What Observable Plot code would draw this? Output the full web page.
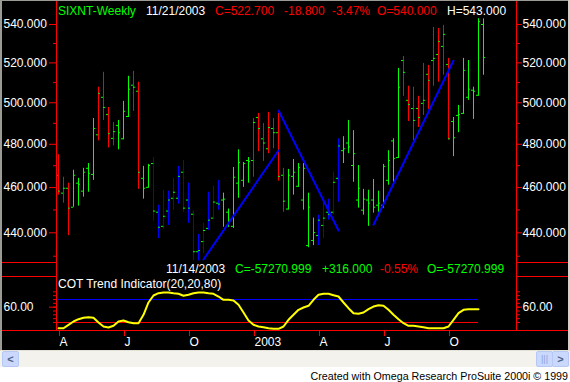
<!DOCTYPE html>
<html><head><meta charset="utf-8">
<script src="https://cdn.jsdelivr.net/npm/d3@7"></script>
<script src="https://cdn.jsdelivr.net/npm/@observablehq/plot@0.6"></script>
<style>
body{margin:0;background:#fff;}
#wrap{position:relative;width:570px;height:382px;overflow:hidden;background:#fff;font-family:"Liberation Sans",Arial,sans-serif;font-size:12px;}
.abs{position:absolute;}
.t{position:absolute;white-space:pre;font-size:12px;line-height:14px;}
.hl{position:absolute;height:1px;background:#ff0000;}
.vl{position:absolute;width:1px;background:#ff0000;}
</style></head><body><div id="wrap"></div>
<script>
// ---- price bars (weekly, 5 Apr 2002 .. 21 Nov 2003) ----
const highs = [475.1,464.7,462.0,467.9,464.2,468.8,471.0,492.3,507.7,515.2,497.7,490.4,491.4,500.7,513.2,515.7,510.2,469.7,470.6,473.8,
452.1,458.8,458.4,464.2,469.7,472.4,462.0,449.5,439.3,444.1,457.9,460.6,463.3,457.5,450.4,469.2,477.4,471.5,473.8,492.3,
494.8,489.9,495.3,492.3,494.8,468.8,468.3,472.9,471.0,471.0,457.5,446.4,447.7,453.9,454.8,467.0,482.6,483.6,491.4,486.5,
470.1,459.2,458.8,463.7,458.4,470.6,477.0,482.6,517.2,523.3,508.2,507.7,503.2,519.7,518.7,538.4,537.9,539.5,522.3,492.8,
498.7,522.3,521.2,507.7,543.1,543.0];
const lows = [456.6,453.0,438.8,451.2,451.7,455.7,457.9,463.3,481.6,491.4,478.3,479.2,477.4,482.1,492.8,495.8,459.2,454.8,459.7,445.0,
437.5,441.5,443.2,449.9,452.6,449.0,444.1,428.0,428.0,431.1,441.0,446.0,449.9,442.4,442.4,441.9,455.2,460.1,462.0,464.7,
476.5,472.0,475.6,477.9,462.9,449.0,449.9,456.6,460.1,449.9,433.6,434.5,434.5,437.5,445.5,447.7,453.5,471.0,475.6,462.4,
450.8,447.7,442.8,448.6,449.0,450.8,461.1,462.4,473.3,503.2,490.9,481.6,488.0,493.8,496.7,508.2,510.2,513.7,482.1,474.2,
485.5,494.3,501.2,491.9,503.2,513.7];
const opens = [465.6,457.5,459.7,451.2,462.0,458.4,468.8,466.0,484.5,502.7,494.3,482.8,488.9,482.6,493.3,508.7,505.7,464.2,460.1,471.0,
449.0,442.8,449.5,455.2,455.2,467.0,454.4,448.1,431.9,436.2,441.9,446.4,453.0,454.4,449.0,442.8,462.0,463.3,472.4,472.4,
492.8,482.6,477.9,487.5,485.5,465.6,450.4,465.1,460.6,454.4,434.5,436.7,438.8,443.2,449.0,449.0,464.2,477.0,480.6,470.1,
454.4,449.9,454.4,454.4,452.1,452.1,463.3,481.6,473.8,521.2,501.2,497.2,497.2,499.7,514.2,521.2,524.3,528.5,519.2,490.9,
493.8,494.8,502.7,506.2,503.7,540.0];
const closes = [458.4,459.7,450.8,465.6,461.5,467.0,466.5,487.5,504.7,497.7,485.0,486.0,485.5,495.8,506.7,507.7,467.0,459.7,470.1,449.5,
442.4,447.2,454.4,457.9,465.1,450.8,450.8,431.9,432.4,441.0,445.5,453.5,452.6,454.8,445.5,464.7,471.5,471.0,472.0,490.4,
487.5,480.6,488.0,485.5,465.1,453.9,465.6,467.0,469.2,468.8,451.2,440.1,445.5,446.4,448.1,462.4,479.2,477.9,478.8,475.6,
459.7,454.8,453.0,451.2,453.0,469.7,472.4,473.3,507.7,515.2,499.2,491.4,492.8,501.2,511.2,522.3,531.1,534.8,482.6,483.1,
494.3,516.2,506.7,505.7,541.5,522.7];
// paint-bar colour of each weekly bar (G green, R red, B blue)
const barColors = [
 "R","R","R","G","G","G","G","G","R","R",
 "R","R","G","G","G","R","R","G","G","B",
 "B","B","B","B","B","B","B","B","B","B",
 "B","B","B","G","G","G","G","G","G","R",
 "R","R","R","R","R","R","G","G","G","G",
 "G","G","B","B","B","B","B","G","G","G",
 "G","G","G","G","G","G","G","G","G","R",
 "R","R","R","R","R","R","R","R","R","G",
 "G","G","G","G","G","G"];
// ---- drawn trend lines ----
const trendId = [1,1,2,2,3,3];
const trendBar = [29,44,44,56,63,79];
const trendPrice = [428.6,477.1,496.2,441.0,443.5,521.2];
// ---- COT trend indicator (20,20,80) ----
const cot = [5.1,5.1,14.0,22.6,28.6,32.3,33.8,32.3,20.0,9.6,7.0,11.4,22.6,25.2,20.8,18.2,18.2,40.1,72.2,90.4,
96.4,98.3,98.3,96.4,94.9,89.7,92.3,96.4,98.3,98.3,96.4,94.9,87.8,79.2,79.2,77.4,66.2,46.1,25.2,14.0,
9.6,7.7,5.1,3.6,3.6,9.6,27.0,40.1,53.1,59.1,63.6,79.2,92.3,94.9,94.9,91.2,87.8,72.2,57.3,44.3,
42.7,46.1,54.7,61.7,65.1,63.6,53.1,40.1,28.6,18.2,11.4,11.4,9.6,7.7,5.1,5.1,5.1,5.1,9.6,27.0,
44.3,53.1,54.7,54.7,54.7];
const upperBand = 80, lowerBand = 20;
// ---- axes ----
const priceMajor = [440,460,480,500,520,540];
const priceMinor = [430,450,470,490,510,530];
const cotTicks = [20,30,40,50,60,70,80,90,100];
const cotMajor = [60];
const monthTickBars = [0,13,26,39,52,65,78];
const monthLabels = ["A","J","O","2003","A","J","O"];

const palette = {G:"#00ff00", R:"#ff0000", B:"#0000ff"};
const RED = "#ff0000", WHITE = "#ffffff";
const FONT = "'Liberation Sans', Arial, sans-serif";
const xDomain = [-0.4, 91.6];

const bars = highs.map((h,i)=>({i, h, l: lows[i], o: opens[i], c: closes[i], col: palette[barColors[i]]}));
const trend = trendId.map((id,k)=>({id, i: trendBar[k], p: trendPrice[k]}));
const cotData = cot.map((v,i)=>({i, v}));

const wrap = document.getElementById("wrap");
function add(html){ wrap.insertAdjacentHTML("beforeend", html); }

// black chart area
add('<div class="abs" style="left:0;top:0;width:570px;height:350px;background:#000"></div>');

const price = Plot.plot({
  width: 570, height: 262,
  marginLeft: 56, marginRight: 54, marginTop: 2, marginBottom: 0,
  style: {background: "#000", color: WHITE, fontFamily: FONT, fontSize: "12px", overflow: "visible"},
  x: {domain: xDomain, axis: null},
  y: {type: "log", domain: [427.34, 551.8]},
  color: {type: "identity"},
  marks: [
    Plot.axisY({anchor: "left", ticks: priceMinor, tickSize: 3, stroke: RED, fill: "none", label: null}),
    Plot.axisY({anchor: "left", ticks: priceMajor, tickSize: 7, stroke: RED, fill: "none", label: null}),
    Plot.axisY({anchor: "right", ticks: priceMinor, tickSize: 3, stroke: RED, fill: "none", label: null}),
    Plot.axisY({anchor: "right", ticks: priceMajor, tickSize: 5, stroke: RED, fill: "none", label: null}),
    Plot.text(priceMajor, {y: d=>d, text: d=>d.toFixed(3), frameAnchor: "left", dx: -53, textAnchor: "start", fill: WHITE}),
    Plot.text(priceMajor, {y: d=>d, text: d=>d.toFixed(3), frameAnchor: "right", dx: 6, textAnchor: "start", fill: WHITE}),
    Plot.ruleX(bars, {x: "i", y1: "l", y2: "h", stroke: "col", strokeWidth: 1}),
    Plot.ruleY(bars, {y: "o", x1: d=>d.i-0.4, x2: "i", stroke: "#00ff00"}),
    Plot.ruleY(bars, {y: "c", x1: "i", x2: d=>d.i+0.4, stroke: "#00ff00"}),
    Plot.line(trend, {x: "i", y: "p", z: "id", stroke: "#0000ff", strokeWidth: 2})
  ]
});
price.style.position = "absolute"; price.style.left = "0px"; price.style.top = "0px";
wrap.appendChild(price);

const ind = Plot.plot({
  width: 570, height: 88,
  marginLeft: 56, marginRight: 54, marginTop: 14, marginBottom: 20,
  style: {background: "#000", color: WHITE, fontFamily: FONT, fontSize: "12px", overflow: "visible"},
  x: {domain: xDomain},
  y: {domain: [-0.87, 140.0]},
  marks: [
    Plot.axisY({anchor: "left", ticks: cotTicks, tickSize: 3, stroke: RED, fill: "none", label: null}),
    Plot.axisY({anchor: "left", ticks: cotMajor, tickSize: 7, stroke: RED, fill: "none", label: null}),
    Plot.axisY({anchor: "right", ticks: cotTicks, tickSize: 3, stroke: RED, fill: "none", label: null}),
    Plot.axisY({anchor: "right", ticks: cotMajor, tickSize: 5, stroke: RED, fill: "none", label: null}),
    Plot.text(cotMajor, {y: d=>d, text: d=>d.toFixed(2), frameAnchor: "left", dx: -53, textAnchor: "start", fill: WHITE}),
    Plot.text(cotMajor, {y: d=>d, text: d=>d.toFixed(2), frameAnchor: "right", dx: 6, textAnchor: "start", fill: WHITE}),
    Plot.axisX({ticks: monthTickBars, tickFormat: d => monthLabels[monthTickBars.indexOf(d)], tickSize: 6, tickPadding: 1,
      stroke: RED, fill: WHITE, textAnchor: "start", dx: 1, label: null}),
    Plot.ruleY([upperBand], {x1: xDomain[0], x2: cot.length-1, stroke: "#0000ff"}),
    Plot.ruleY([lowerBand], {x1: xDomain[0], x2: cot.length-1, stroke: RED}),
    Plot.line(cotData, {x: "i", y: "v", stroke: "#ffff00", strokeWidth: 2})
  ]
});
ind.style.position = "absolute"; ind.style.left = "0px"; ind.style.top = "262px";
wrap.appendChild(ind);

// panel chrome
add('<div class="hl" style="left:0;top:262px;width:56px"></div>');
add('<div class="hl" style="left:516px;top:262px;width:54px"></div>');
add('<div class="hl" style="left:0;top:276px;width:56px"></div>');
add('<div class="hl" style="left:516px;top:276px;width:54px"></div>');
add('<div class="hl" style="left:0;top:330px;width:570px"></div>');
add('<div class="vl" style="left:56px;top:0;height:331px"></div>');
add('<div class="vl" style="left:516px;top:0;height:331px"></div>');

// header texts
const hdr = [["SIXNT-Weekly",58,"#00ff00"],["11/21/2003",146,WHITE],["C=522.700",215,RED],["-18.800",284,RED],["-3.47%",332,RED],["O=540.000",377,RED],["H=543.000",447,WHITE]];
hdr.forEach(([s,x,c])=>add(`<div class="t" style="left:${x}px;top:4px;color:${c}">${s}</div>`));
const hdr2 = [["11/14/2003",166,WHITE],["C=-57270.999",235,"#00ff00"],["+316.000",322,"#00ff00"],["-0.55%",380,RED],["O=-57270.999",427,"#00ff00"]];
hdr2.forEach(([s,x,c])=>add(`<div class="t" style="left:${x}px;top:262px;color:${c}">${s}</div>`));
add(`<div class="t" style="left:58px;top:277px;color:#fff">COT Trend Indicator(20,20,80)</div>`);

// window borders
add('<div class="abs" style="left:0;top:0;width:2px;height:350px;background:#9c9a94"></div>');
add('<div class="abs" style="left:0;top:0;width:570px;height:1px;background:#9c9a94"></div>');
add('<div class="abs" style="left:568px;top:0;width:2px;height:350px;background:#d4d0c8"></div>');
// scrollbar
add('<div class="abs" style="left:0;top:350px;width:570px;height:16px;background:#f3f2ec;border-top:1px solid #e4e2d8"></div>');
add('<div class="abs" style="left:2px;top:351px;width:15px;height:14px;background:#c9d8fc;border:1px solid #b6c8f4;border-radius:2px;color:#4d6185;font-size:11px;font-weight:bold;line-height:14px;text-align:center">&lt;</div>');
add('<div class="abs" style="left:536px;top:351px;width:15px;height:14px;background:#c9d8fc;border:1px solid #b6c8f4;border-radius:2px;color:#8da2d8;font-size:9px;line-height:14px;text-align:center">|||</div>');
add('<div class="abs" style="left:552px;top:351px;width:15px;height:14px;background:#c9d8fc;border:1px solid #b6c8f4;border-radius:2px;color:#4d6185;font-size:11px;font-weight:bold;line-height:14px;text-align:center">&gt;</div>');
// footer
add('<div class="t" style="right:2px;top:369px;color:#000;font-size:10.7px">Created with Omega Research ProSuite 2000i © 1999</div>');
</script></body></html>
